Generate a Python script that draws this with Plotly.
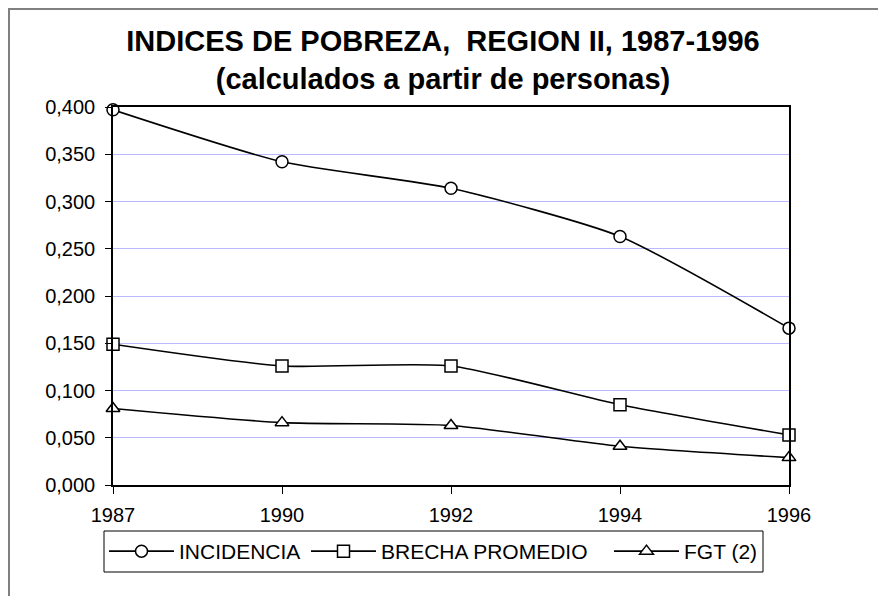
import plotly.graph_objects as go

years = ["1987", "1990", "1992", "1994", "1996"]
incidencia = [0.397, 0.342, 0.314, 0.263, 0.166]
brecha = [0.149, 0.126, 0.126, 0.085, 0.053]
fgt2 = [0.081, 0.066, 0.063, 0.041, 0.029]

series = [
    ("INCIDENCIA", incidencia, "circle"),
    ("BRECHA PROMEDIO", brecha, "square"),
    ("FGT (2)", fgt2, "triangle-up"),
]

W, H = 886, 596
OFF = 8  # page body margin
L, T = 105, 99
pw, ph = 676, 378
R, B = W - L - pw, H - T - ph

legend_ids = ["legend", "legend2", "legend3"]
legend_left = [104, 306, 609]

fig = go.Figure()
for (name, vals, sym), lid in zip(series, legend_ids):
    fig.add_trace(go.Scatter(
        x=years, y=vals, name=name, mode="lines+markers",
        line=dict(color="black", width=1.6, shape="spline", smoothing=0.6),
        marker=dict(symbol=sym, size=12, color="white",
                    line=dict(color="black", width=1.5)),
        cliponaxis=False, legend=lid, showlegend=True,
    ))

def px_x(s):
    return (s - OFF - L) / pw

def px_y(s):
    return (H - B - (s - OFF)) / ph

legends = {}
for lid, lx in zip(legend_ids, legend_left):
    legends[lid] = dict(
        orientation="h", x=px_x(lx), y=px_y(531),
        xanchor="left", yanchor="top",
        borderwidth=0, bgcolor="rgba(0,0,0,0)",
        font=dict(size=21), itemwidth=65, visible=True,
    )

fig.update_layout(
    width=W, height=H,
    margin=dict(l=L, r=R, t=T, b=B),
    paper_bgcolor="white", plot_bgcolor="white",
    separators=",.",
    showlegend=True,
    font=dict(family="Arial, Liberation Sans, sans-serif", size=20, color="black"),
    title=dict(
        text="<b>INDICES DE POBREZA,  REGION II, 1987-1996</b><br><b>(calculados a partir de personas)</b>",
        x=(443 - OFF) / W, xanchor="center", xref="container",
        y=1 - 43 / H, yanchor="top", yref="container",
        font=dict(family="Arial, Liberation Sans, sans-serif", size=29, color="black"),
    ),
    xaxis=dict(
        type="category", range=[0, len(years) - 1],
        showgrid=False, showline=True, linecolor="black", linewidth=1.5,
        mirror=True, ticks="outside", ticklen=7, tickcolor="black",
        tickwidth=1, zeroline=False, ticklabelstandoff=4,
    ),
    yaxis=dict(
        range=[0, 0.4], dtick=0.05, tickformat=".3f",
        showgrid=True, gridcolor="rgb(185,185,255)", gridwidth=1,
        showline=True, linecolor="black", linewidth=1.5, mirror=True,
        ticks="outside", ticklen=6, tickcolor="black", tickwidth=1,
        zeroline=False, ticklabelstandoff=6,
    ),
    shapes=[
        dict(type="rect", xref="paper", yref="paper",
             x0=px_x(9), x1=px_x(900), y0=px_y(610), y1=px_y(9),
             line=dict(color="#808080", width=2), layer="below"),
        dict(type="rect", xref="paper", yref="paper",
             x0=px_x(104), x1=px_x(763), y0=px_y(572), y1=px_y(531),
             line=dict(color="black", width=1), layer="below"),
    ],
    **legends,
)

fig.write_html("out.html")
